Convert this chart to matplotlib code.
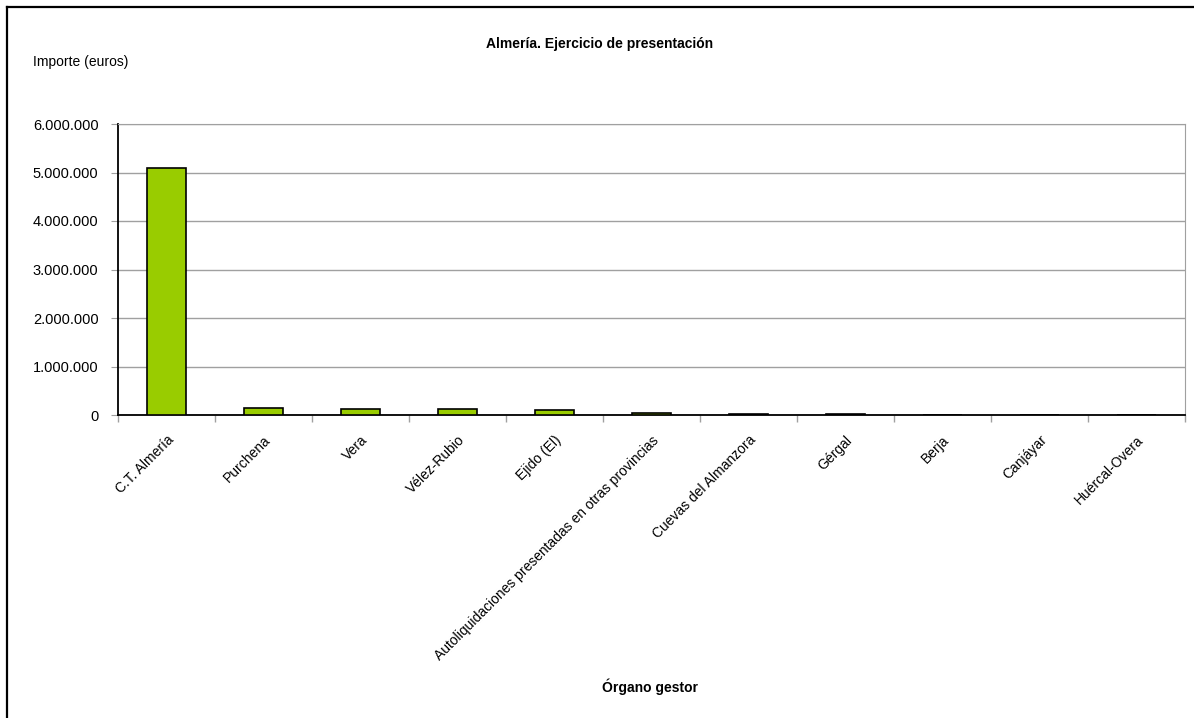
import matplotlib
matplotlib.use("Agg")
import matplotlib.pyplot as plt
from matplotlib.lines import Line2D
from matplotlib.ticker import FuncFormatter, NullFormatter

plt.rcParams['font.family'] = ['Liberation Sans', 'DejaVu Sans']

categories = ["C.T. Almería", "Purchena", "Vera", "Vélez-Rubio", "Ejido (El)",
              "Autoliquidaciones presentadas en otras provincias",
              "Cuevas del Almanzora", "Gérgal", "Berja", "Canjáyar", "Huércal-Overa"]
values = [5090000, 145000, 130000, 125000, 110000, 35000, 25000, 15000, 10000, 8000, 2000]
yticks = [0, 1000000, 2000000, 3000000, 4000000, 5000000, 6000000]

W, H = 1194, 718
fig = plt.figure(figsize=(W/100, H/100), dpi=100)
ax = fig.add_axes([118/W, 1-415/H, (1185-118)/W, (415-124)/H])

x = list(range(len(categories)))
ax.bar(x, values, width=0.41, color="#99CC00", edgecolor="black", linewidth=1.2, zorder=3)
ax.set_xlim(-0.5, len(categories)-0.5)
ax.set_ylim(0, 6000000)
ax.set_yticks(yticks)
ax.yaxis.set_major_formatter(FuncFormatter(lambda v, p: f"{int(v):,}".replace(",", ".")))
ax.grid(axis='y', color="#a0a0a0", linewidth=1, zorder=0)

ax.set_xticks([i + 0.5 for i in range(-1, len(categories))])
ax.xaxis.set_major_formatter(NullFormatter())
ax.set_xticks(x, minor=True)
ax.set_xticklabels(categories, minor=True, rotation=45, ha='right', rotation_mode='anchor', fontsize=10)
ax.tick_params(axis='x', which='minor', length=0, pad=13)
ax.tick_params(axis='x', which='major', length=5, color="#a0a0a0", width=1)
ax.tick_params(axis='y', length=5, color="#a0a0a0", labelsize=10.5, pad=9)

for s in ['top', 'right']:
    ax.spines[s].set_color("#a0a0a0")
for s in ['left', 'bottom']:
    ax.spines[s].set_color("black")
    ax.spines[s].set_linewidth(1.3)

fig.text(600/W, 1-44/H, "Almería. Ejercicio de presentación", ha='center', va='center',
         fontsize=10, fontweight='bold')
fig.text(33/W, 1-62/H, "Importe (euros)", ha='left', va='center', fontsize=10)
fig.text(650/W, 1-687/H, "Órgano gestor", ha='center', va='center', fontsize=10, fontweight='bold')

fig.add_artist(Line2D([7/W, 1], [1-7/H, 1-7/H], transform=fig.transFigure, color='black', linewidth=1.6))
fig.add_artist(Line2D([7/W, 7/W], [0, 1-7/H], transform=fig.transFigure, color='black', linewidth=1.6))

fig.savefig("out.png", dpi=100)
